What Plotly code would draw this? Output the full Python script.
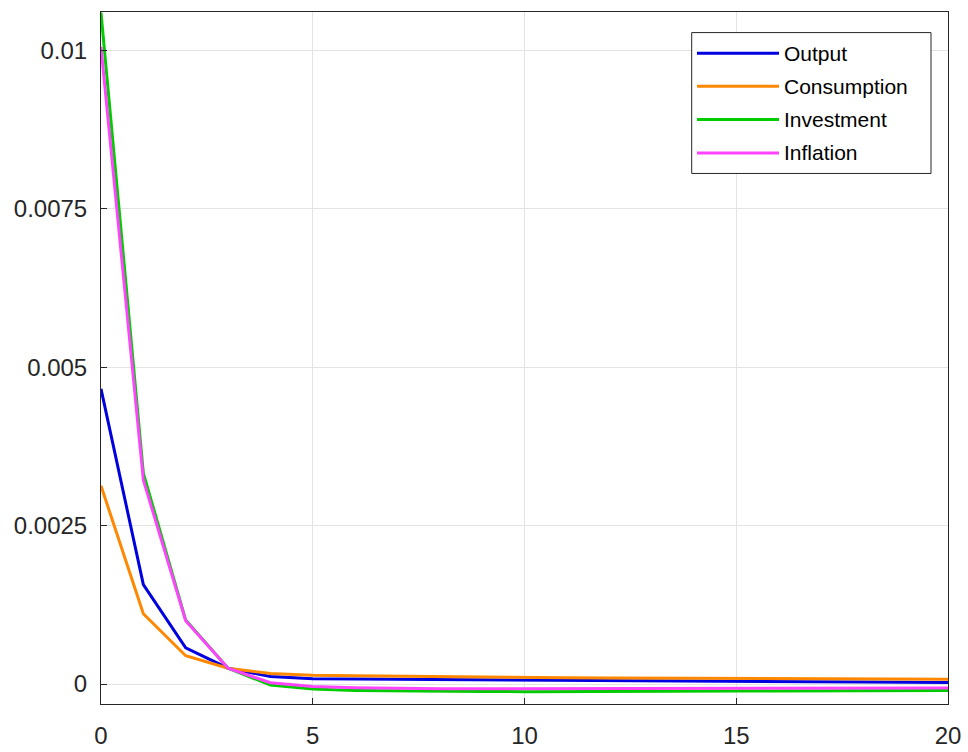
import plotly.graph_objects as go

periods = list(range(21))
series_names = ["Output", "Consumption", "Investment", "Inflation"]
output = [0.00466, 0.00157, 0.00057, 0.00025, 0.00012, 0.000085, 0.00008, 0.000075, 0.00007, 0.000065,
          0.00006, 0.000056, 0.000052, 0.000048, 0.000044, 0.00004, 0.000037, 0.000034, 0.000031, 0.000029, 0.000026]
consumption = [0.00313, 0.00111, 0.000446, 0.00025, 0.000165, 0.000138, 0.00013, 0.000122, 0.000115, 0.000108,
               0.000102, 0.000098, 0.000095, 0.000092, 0.000089, 0.000086, 0.000084, 0.000082, 0.00008, 0.000078, 0.000076]
investment = [0.0106, 0.00333, 0.00101, 0.00025, -0.000015, -0.00008, -0.0001, -0.00011, -0.000115, -0.000118,
              -0.00012, -0.00012, -0.000118, -0.000116, -0.000113, -0.00011, -0.000108, -0.000106, -0.000104, -0.000102, -0.0001]
inflation = [0.01006, 0.00322, 0.001, 0.00025, 0.00002, -0.00004, -0.00006, -0.00007, -0.000075, -0.000076,
             -0.000075, -0.000074, -0.000072, -0.00007, -0.000068, -0.000066, -0.000064, -0.000063, -0.000062, -0.000062, -0.000062]
colors = ["#0000e0", "#ff8800", "#00cc00", "#ff44ff"]
x_ticks = [0, 5, 10, 15, 20]
y_ticks = [0, 0.0025, 0.005, 0.0075, 0.01]
y_tick_labels = ["0", "0.0025", "0.005", "0.0075", "0.01"]

all_series = [output, consumption, investment, inflation]

fig = go.Figure()
for name, vals, col in zip(series_names, all_series, colors):
    fig.add_trace(go.Scatter(x=periods, y=vals, mode="lines", name=name,
                             line=dict(color=col, width=3), showlegend=False))

# positions below are in page pixels (body margin removed)
L, R, T, B = 101, 948, 11.7, 704.3
W, H = R - L, B - T
def px(xp):
    return (xp - L) / W
def py(yp):
    return (B - yp) / H

fig.add_shape(type="rect", xref="paper", yref="paper",
              x0=px(691.7), x1=px(931), y0=py(173.3), y1=py(32.3),
              line=dict(color="#262626", width=1), fillcolor="white", layer="above")
entry_y = [53, 86, 119.3, 152.7]
for name, col, ey in zip(series_names, colors, entry_y):
    fig.add_shape(type="line", xref="paper", yref="paper",
                  x0=px(697), x1=px(779), y0=py(ey), y1=py(ey),
                  line=dict(color=col, width=3), layer="above")
    fig.add_annotation(xref="paper", yref="paper", x=px(782), y=py(ey),
                       text=name, showarrow=False, xanchor="left", yanchor="middle",
                       font=dict(family="Liberation Sans, Arial", size=21, color="#000000"))

axis_common = dict(showline=True, linecolor="#262626", linewidth=1, mirror=True,
                   ticks="inside", ticklen=6, tickcolor="#262626",
                   showgrid=True, gridcolor="#e3e3e3", gridwidth=1, zeroline=False,
                   ticklabeloverflow="allow",
                   tickfont=dict(family="Liberation Sans, Arial", size=24, color="#262626"))

fig.update_xaxes(range=[0, 20], tickvals=x_ticks, ticktext=[str(v) for v in x_ticks],
                 ticklabelstandoff=10, **axis_common)
fig.update_yaxes(range=[-0.000315, 0.010609], tickvals=y_ticks, ticktext=y_tick_labels,
                 ticklabelstandoff=8, **axis_common)

fig_w, fig_h = 968, 752
fig.update_layout(width=fig_w, height=fig_h, plot_bgcolor="white", paper_bgcolor="white",
                  margin=dict(l=L, r=fig_w - R, t=T, b=fig_h - B, autoexpand=False))

fig.write_html("out.html", config={"displayModeBar": False},
               post_script="document.body.style.margin='0';document.body.style.overflow='hidden';")
